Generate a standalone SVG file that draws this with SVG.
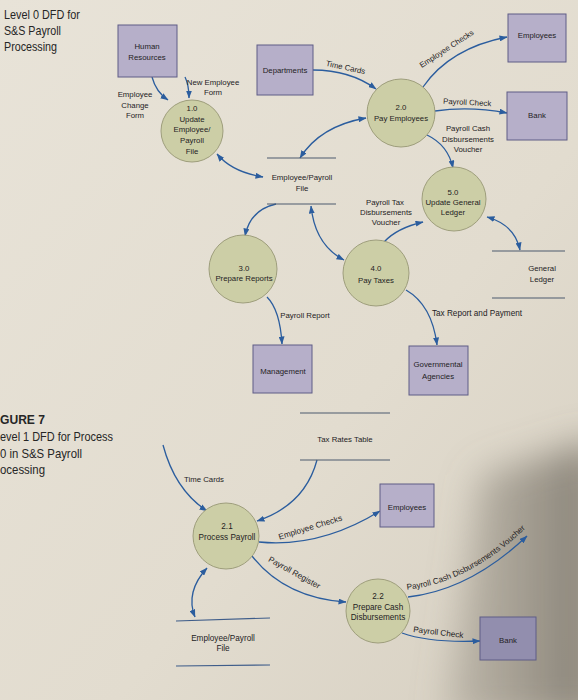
<svg xmlns="http://www.w3.org/2000/svg" width="578" height="700" viewBox="0 0 578 700">
<defs>
<linearGradient id="bg" x1="0" y1="0" x2="1" y2="1">
<stop offset="0" stop-color="#e8e3d8"/>
<stop offset="0.6" stop-color="#e2dccf"/>
<stop offset="1" stop-color="#d6cfc1"/>
</linearGradient>
<linearGradient id="shade" x1="0" y1="0" x2="1" y2="0">
<stop offset="0" stop-color="#8a8478" stop-opacity="0.35"/>
<stop offset="1" stop-color="#6f695f" stop-opacity="0.8"/>
</linearGradient>
<filter id="blur" x="-50%" y="-50%" width="200%" height="200%">
<feGaussianBlur stdDeviation="18"/>
</filter>
<marker id="ah" viewBox="0 0 8 6" refX="7.5" refY="3" markerWidth="8" markerHeight="6" markerUnits="userSpaceOnUse" orient="auto-start-reverse">
<path d="M0,0 L8,3 L0,6 z" fill="#2b5d9e"/>
</marker>
<style>
.ent{fill:#b6afc9;stroke:#5f5d86;stroke-width:1}
.proc{fill:#cccea6;stroke:#9e9e7c;stroke-width:1}
.store{stroke:#4d5a6e;stroke-width:1.2;fill:none}
.flow{fill:none;stroke:#2b5d9e;stroke-width:1.3;marker-end:url(#ah)}
.bi{marker-start:url(#ah)}
text{font-family:"Liberation Sans","DejaVu Sans",sans-serif;fill:#24221e}
.t{font-size:7.8px;text-anchor:middle}
.tl{font-size:8.2px;text-anchor:middle}
.title{font-size:13px;fill:#262626}
</style>
</defs>
<rect width="578" height="700" fill="url(#bg)"/>
<path d="M480,475 L600,440 L600,720 L445,720 Z" fill="url(#shade)" filter="url(#blur)"/>

<g id="titles">
<text class="title" x="4" y="19" textLength="76" lengthAdjust="spacingAndGlyphs">Level 0 DFD for</text>
<text class="title" x="4" y="35" textLength="57" lengthAdjust="spacingAndGlyphs">S&amp;S Payroll</text>
<text class="title" x="4" y="51" textLength="53" lengthAdjust="spacingAndGlyphs">Processing</text>
<text class="title" x="0" y="424" textLength="45" lengthAdjust="spacingAndGlyphs" font-weight="bold" fill="#33363c">GURE 7</text>
<text class="title" x="0" y="441" textLength="113" lengthAdjust="spacingAndGlyphs">evel 1 DFD for Process</text>
<text class="title" x="0" y="458" textLength="82" lengthAdjust="spacingAndGlyphs">0 in S&amp;S Payroll</text>
<text class="title" x="0" y="474" textLength="45" lengthAdjust="spacingAndGlyphs">ocessing</text>
</g>

<g id="connectors">
<path class="flow" d="M152,77 Q156,92 168,100"/>
<path class="flow" d="M185,77 Q189,85 189,98"/>
<path class="flow bi" d="M217,154 Q232,172 263,177"/>
<path class="flow" d="M313,70 Q350,70 376,89"/>
<path class="flow" d="M423,87 Q450,48 507,37"/>
<path class="flow" d="M435,111 Q470,106 507,113"/>
<path class="flow" d="M427,135 Q448,145 453,168"/>
<path class="flow bi" d="M366,118 Q320,126 300,158"/>
<path class="flow" d="M276,204 Q250,210 245,236"/>
<path class="flow bi" d="M311,206 Q315,245 344,260"/>
<path class="flow" d="M384,242 Q397,228 423,222"/>
<path class="flow bi" d="M487,217 Q515,225 520,250"/>
<path class="flow" d="M406,290 Q432,305 437,345"/>
<path class="flow" d="M267,297 Q280,310 282,344"/>
<path class="flow" d="M163,445 Q175,490 207,511"/>
<path class="flow" d="M317,460 Q305,505 257,521"/>
<path class="flow" d="M259,542 Q320,548 380,511"/>
<path class="flow" d="M252,556 Q285,598 346,602"/>
<path class="flow" d="M408,597 Q470,590 527,536"/>
<path class="flow" d="M402,633 Q430,643 480,641"/>
<path class="flow bi" d="M207,568 Q185,592 195,617"/>
<path id="tp1" d="M405,590 Q472,583 532,522" fill="none"/>
</g>

<g id="flow-labels">
<text class="t" x="135" y="97">Employee</text>
<text class="t" x="135" y="108">Change</text>
<text class="t" x="135" y="118">Form</text>
<text class="t" x="213" y="85">New Employee</text>
<text class="t" x="213" y="95">Form</text>
<text class="t" transform="translate(345,70) rotate(12)">Time Cards</text>
<text class="t" transform="translate(448,51) rotate(-33)">Employee Checks</text>
<text class="t" transform="translate(467,105) rotate(3)">Payroll Check</text>
<text class="t" x="468" y="131">Payroll Cash</text>
<text class="t" x="468" y="142">Disbursements</text>
<text class="t" x="468" y="152">Voucher</text>
<text class="t" x="385" y="205">Payroll Tax</text>
<text class="t" x="386" y="215">Disbursements</text>
<text class="t" x="386" y="225">Voucher</text>
<text class="tl" x="477" y="316">Tax Report and Payment</text>
<text class="t" x="305" y="318">Payroll Report</text>
<text class="t" x="204" y="482">Time Cards</text>
<text class="tl" transform="translate(311,530) rotate(-17)">Employee Checks</text>
<text class="tl" transform="translate(293,575) rotate(29)">Payroll Register</text>
<text class="tl" style="text-anchor:start"><textPath href="#tp1" startOffset="2">Payroll Cash Disbursements Voucher</textPath></text>
<text class="tl" transform="translate(438,635) rotate(7)">Payroll Check</text>
</g>

<g id="hr"><rect class="ent" x="118" y="25" width="59" height="52"/>
<text class="t" x="147" y="49">Human</text><text class="t" x="147" y="60">Resources</text></g>
<g id="departments"><rect class="ent" x="257" y="45" width="56" height="50"/>
<text class="t" x="285" y="73">Departments</text></g>
<g id="employees-top"><rect class="ent" x="508" y="14" width="58" height="48"/>
<text class="t" x="537" y="38">Employees</text></g>
<g id="bank-top"><rect class="ent" x="507" y="92" width="60" height="48"/>
<text class="t" x="537" y="118">Bank</text></g>
<g id="management"><rect class="ent" x="253" y="345" width="59" height="48"/>
<text class="t" x="283" y="373.5">Management</text></g>
<g id="govt"><rect class="ent" x="409" y="346" width="59" height="49"/>
<text class="t" x="438" y="367">Governmental</text><text class="t" x="438" y="379">Agencies</text></g>
<g id="employees-low"><rect class="ent" x="380" y="484" width="54" height="43"/>
<text class="t" x="407" y="510">Employees</text></g>
<g id="bank-low"><rect class="ent" x="480" y="617" width="56" height="43" style="fill:#928eae"/>
<text class="t" x="508" y="643">Bank</text></g>

<g id="p1"><circle class="proc" cx="192" cy="131" r="31"/>
<text class="t" x="192" y="111">1.0</text><text class="t" x="192" y="121.5">Update</text><text class="t" x="192" y="132">Employee/</text><text class="t" x="192" y="143">Payroll</text><text class="t" x="192" y="154">File</text></g>
<g id="p2"><circle class="proc" cx="401" cy="113" r="34"/>
<text class="t" x="401" y="109.5">2.0</text><text class="t" x="401" y="120.5">Pay Employees</text></g>
<g id="p5"><circle class="proc" cx="454" cy="199" r="32"/>
<text class="t" x="453" y="195">5.0</text><text class="t" x="453" y="205">Update General</text><text class="t" x="453" y="215">Ledger</text></g>
<g id="p4"><circle class="proc" cx="376" cy="273" r="33"/>
<text class="t" x="376" y="270.5">4.0</text><text class="t" x="376" y="282.5">Pay Taxes</text></g>
<g id="p3"><circle class="proc" cx="243" cy="269" r="34"/>
<text class="t" x="244" y="270.5">3.0</text><text class="t" x="244" y="280.5">Prepare Reports</text></g>
<g id="p21"><circle class="proc" cx="226" cy="536" r="33"/>
<text class="tl" x="227" y="529">2.1</text><text class="tl" x="227" y="540">Process Payroll</text></g>
<g id="p22"><circle class="proc" cx="378" cy="611" r="32"/>
<text class="tl" x="378" y="599">2.2</text><text class="tl" x="378" y="610">Prepare Cash</text><text class="tl" x="378" y="620">Disbursements</text></g>

<g id="ds-emp-top"><line class="store" x1="267" y1="158" x2="336" y2="158"/><line class="store" x1="267" y1="204" x2="336" y2="204"/>
<text class="t" x="302" y="179.5">Employee/Payroll</text><text class="t" x="302" y="190.5">File</text></g>
<g id="ds-gl"><line class="store" x1="492" y1="251" x2="565" y2="251"/><line class="store" x1="492" y1="298" x2="565" y2="298"/>
<text class="t" x="542" y="270.5">General</text><text class="t" x="542" y="281.5">Ledger</text></g>
<g id="ds-tax"><line class="store" x1="300" y1="413" x2="390" y2="413"/><line class="store" x1="300" y1="460" x2="390" y2="460"/>
<text class="t" x="345" y="442">Tax Rates Table</text></g>
<g id="ds-emp-low"><line class="store" x1="176" y1="621" x2="270" y2="618" style="stroke:#3f5d8a"/><line class="store" x1="176" y1="666" x2="270" y2="665" style="stroke:#3f5d8a"/>
<text class="tl" x="223" y="641">Employee/Payroll</text><text class="tl" x="223" y="651">File</text></g>
</svg>
